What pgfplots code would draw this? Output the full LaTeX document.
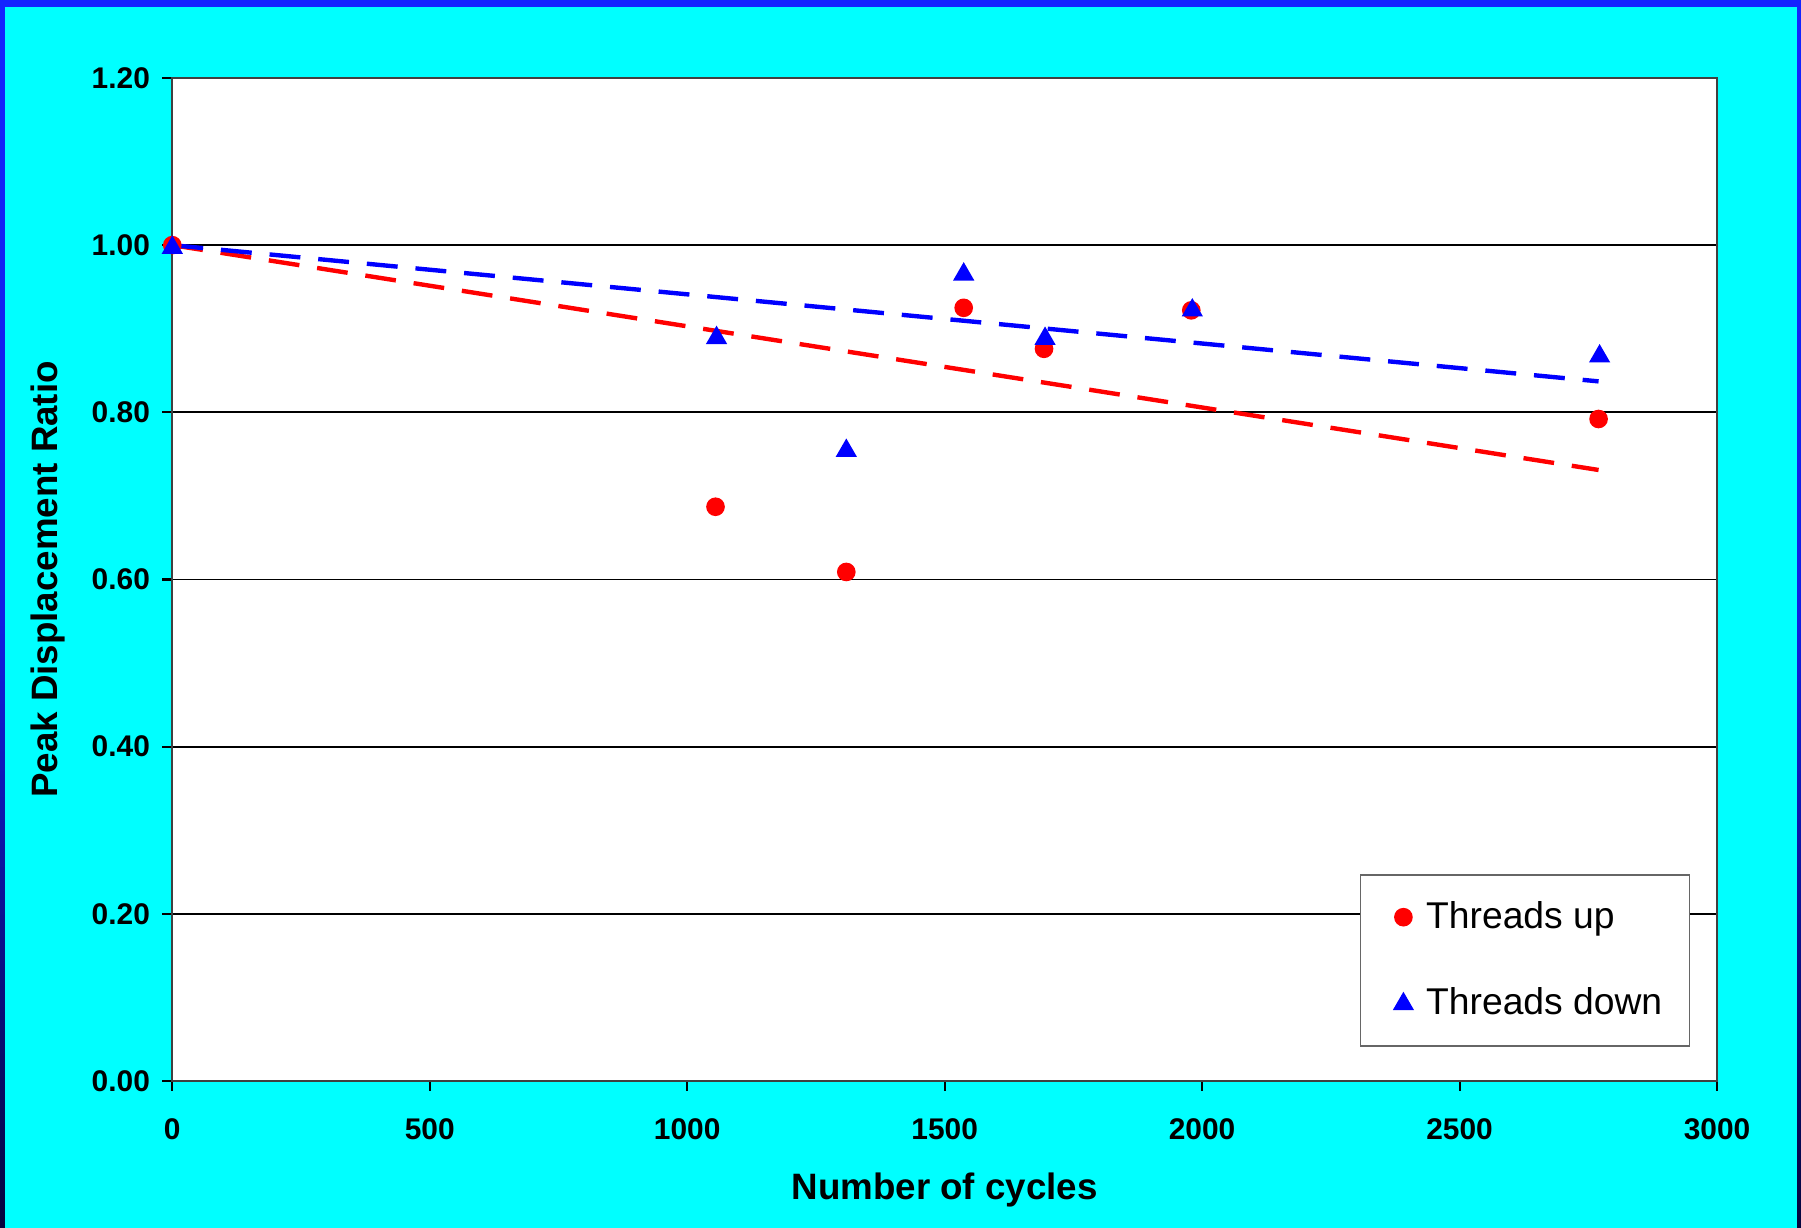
\documentclass[border=0pt]{standalone}
\usepackage{pgfplots}
\pgfplotsset{compat=1.18}
\usepackage{fontspec}
\setmainfont{Liberation Sans}
\definecolor{frameblue}{RGB}{20,36,255}
\definecolor{framenavy}{RGB}{5,5,60}
\definecolor{bgcyan}{RGB}{0,255,255}
\begin{document}
\begin{tikzpicture}
\useasboundingbox (0,0) rectangle (180.1mm,122.8mm);
\shade[top color=frameblue, bottom color=framenavy, middle color=frameblue!85!framenavy] (0,0) rectangle (180.1mm,122.8mm);
\fill[bgcyan] (0.5mm,0mm) rectangle (179.7mm,122.1mm);
\begin{axis}[
  at={(17.23mm,14.7mm)}, anchor=south west,
  scale only axis, width=154.47mm, height=100.3mm,
  axis background/.style={fill=white},
  xmin=0, xmax=3000, ymin=0, ymax=1.2,
  xtick={0,500,...,3000}, ytick={0,0.2,0.4,0.6,0.8,1.0,1.2},
  ymajorgrids, major grid style={black, line width=0.5pt},
  axis line style={black!75, line width=0.6pt},
  tick align=outside, tick pos=left, major tick length=1mm,
  tick style={black, line width=0.6pt},
  /pgf/number format/assume math mode=true,
  ticklabel style={font=\bfseries\fontsize{8.5}{10}\selectfont},
  yticklabel style={/pgf/number format/fixed, /pgf/number format/fixed zerofill, /pgf/number format/precision=2},
  xticklabel style={/pgf/number format/1000 sep={}, yshift=-1.5mm},
  xlabel={Number of cycles}, ylabel={Peak Displacement Ratio},
  label style={font=\bfseries\fontsize{10.45}{12}\selectfont},
  xlabel style={at={(axis description cs:0.5,-0.109)}, anchor=center},
  ylabel style={at={(axis description cs:-0.0803,0.5)}, anchor=center},
  legend style={at={(0.9825,0.034)}, anchor=south east, draw=black!60, fill=white,
    font=\fontsize{10.6}{13}\selectfont, row sep=4.05mm, inner ysep=1.9mm, inner xsep=2mm},
  legend cell align=left,
  legend image code/.code={\path (-2.2mm,0) (1.5mm,0); \draw[#1] plot coordinates {(0cm,0cm)};},
]
\addplot[red, dash pattern=on 8.8pt off 5.1pt, line width=1.25pt, forget plot] coordinates {(0,1.0) (2770,0.731)};
\addplot[blue, dash pattern=on 8.8pt off 5.1pt, line width=1.25pt, forget plot] coordinates {(0,1.0) (2770,0.837)};
\addplot[only marks, mark=*, mark size=2.45pt, red, mark options={fill=red, draw=red}] coordinates {
(0,1.000) (1055,0.687) (1309,0.609) (1537,0.925) (1693,0.876) (1979,0.922) (2770,0.792)};
\addlegendentry{Threads up}
\addplot[only marks, mark=triangle*, mark size=3.1pt, blue, mark options={fill=blue, draw=blue}] coordinates {
(0,0.997) (1057,0.889) (1309,0.754) (1537,0.965) (1695,0.888) (1981,0.922) (2772,0.867)};
\addlegendentry{Threads down}
\end{axis}
\end{tikzpicture}
\end{document}
